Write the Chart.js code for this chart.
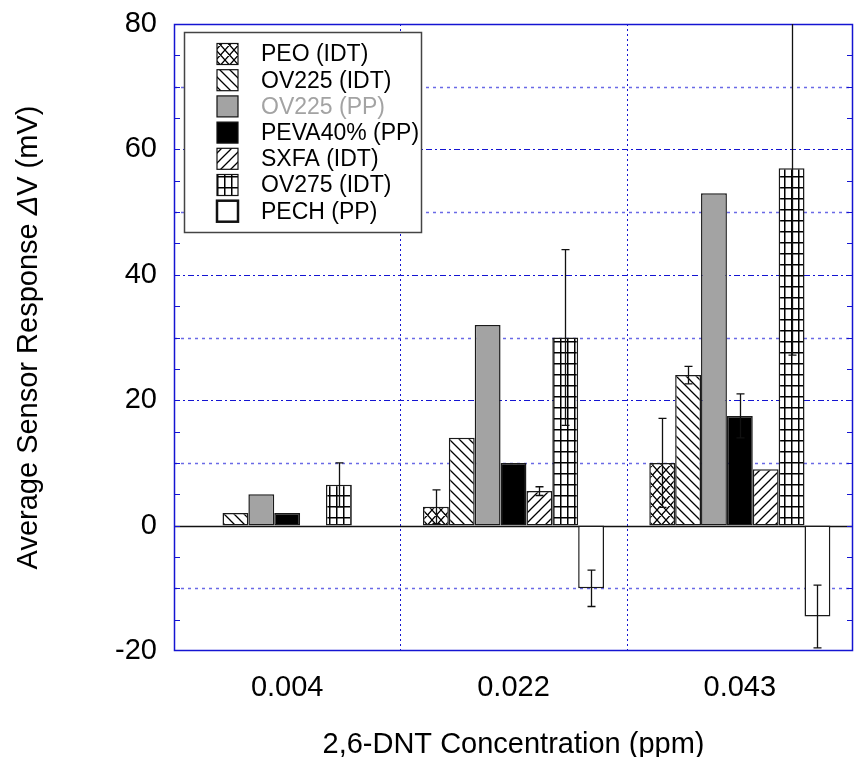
<!DOCTYPE html>
<html>
<head>
<meta charset="utf-8">
<script src="https://cdn.jsdelivr.net/npm/chart.js@4.4.1/dist/chart.umd.min.js"></script>
<style>
  html, body { margin: 0; padding: 0; background: #fff; }
  #wrap { width: 854px; height: 757px; }
</style>
</head>
<body>
<div id="wrap"><canvas id="chart" width="854" height="757"></canvas></div>
<script>
// x categories (2,6-DNT concentration, ppm)
const concentrations = ['0.004', '0.022', '0.043'];
const sensorNames = ['PEO (IDT)', 'OV225 (IDT)', 'OV225 (PP)', 'PEVA40% (PP)', 'SXFA (IDT)', 'OV275 (IDT)', 'PECH (PP)'];

// average response (mV) per sensor
const peoIdt = [0, 3, 10];
const ov225Idt = [2, 14, 24];
const ov225Pp = [5, 32, 53];
const peva40Pp = [2, 10, 17.5];
const sxfaIdt = [0, 5.5, 9];
const ov275Idt = [6.5, 30, 57];
const pechPp = [0, -10, -14.5];

// error bar half lengths (mV)
const peoIdtErr = [0, 2.7, 7.1];
const ov225IdtErr = [0, 0, 1.4];
const ov225PpErr = [0, 0, 0];
const peva40PpErr = [0, 0, 3.5];
const sxfaIdtErr = [0, 0.7, 0];
const ov275IdtErr = [3.5, 14, 29.8];
const pechPpErr = [0, 2.9, 5];

const yTickLabels = [-20, 0, 20, 40, 60, 80];

const FONT = "'Liberation Sans', Arial, sans-serif";
const BLUE = '#1414d2';
const LIGHT_BLUE = '#6a6ae6';
const GREY = '#a3a3a3';

function makePattern(kind) {
    const tile = document.createElement('canvas');
    const w = kind === 'grid' ? 7 : (kind === 'cross' ? 9 : 10);
    const h = kind === 'grid' ? 11 : 10;
    tile.width = w;
    tile.height = h;
    const c = tile.getContext('2d');
    c.fillStyle = '#fff';
    c.fillRect(0, 0, w, h);
    c.fillStyle = '#000';
    c.strokeStyle = '#000';
    c.lineWidth = 1.3;
    if (kind === 'grid') {
        c.fillRect(0, 0, 1.5, h);
        c.fillRect(0, 0, w, 1.5);
    } else {
        c.beginPath();
        for (let k = -1; k <= 1; k++) {
            if (kind === 'back' || kind === 'cross') {
                c.moveTo(k * w - w, -h);
                c.lineTo(k * w + 2 * w, 2 * h);
            }
            if (kind === 'fwd' || kind === 'cross') {
                c.moveTo(k * w + 2 * w, -h);
                c.lineTo(k * w - w, 2 * h);
            }
        }
        c.stroke();
    }
    return c.createPattern(tile, 'repeat');
}

const seriesValues = [peoIdt, ov225Idt, ov225Pp, peva40Pp, sxfaIdt, ov275Idt, pechPp];
const seriesErrors = [peoIdtErr, ov225IdtErr, ov225PpErr, peva40PpErr, sxfaIdtErr, ov275IdtErr, pechPpErr];
const fills = [makePattern('cross'), makePattern('back'), GREY, '#000', makePattern('fwd'), makePattern('grid'), '#fff'];

const datasets = seriesValues.map((vals, i) => ({
    label: sensorNames[i],
    data: vals,
    backgroundColor: fills[i],
    borderColor: '#1a1a1a',
    borderWidth: 1.5,
    borderSkipped: false,
    categoryPercentage: 0.8,
    barPercentage: 1.0
}));

// grid, frame, zero line and minor ticks
const framePlugin = {
    id: 'frame',
    beforeDatasetsDraw(chart) {
        const { ctx, chartArea: a, scales: { x, y } } = chart;
        ctx.save();
        y.ticks.forEach(t => {
            if (t.value === y.min || t.value === y.max || t.value === 0) return;
            const py = Math.round(y.getPixelForValue(t.value)) + 0.5;
            const major = t.value % 20 === 0;
            ctx.strokeStyle = major ? BLUE : LIGHT_BLUE;
            ctx.lineWidth = major ? 1 : 1.5;
            ctx.setLineDash(major ? [6, 3, 2, 3] : [3, 4]);
            ctx.beginPath();
            ctx.moveTo(a.left, py);
            ctx.lineTo(a.right, py);
            ctx.stroke();
        });
        // category boundaries
        ctx.strokeStyle = BLUE;
        ctx.lineWidth = 1;
        ctx.setLineDash([2, 3]);
        for (let i = 1; i < concentrations.length; i++) {
            const px = Math.round((x.getPixelForValue(i - 1) + x.getPixelForValue(i)) / 2) + 0.5;
            ctx.beginPath();
            ctx.moveTo(px, a.top);
            ctx.lineTo(px, a.bottom);
            ctx.stroke();
        }
        ctx.setLineDash([]);
        // zero line
        const zy = Math.round(y.getPixelForValue(0)) + 0.5;
        ctx.strokeStyle = '#111';
        ctx.lineWidth = 1.5;
        ctx.beginPath();
        ctx.moveTo(a.left, zy);
        ctx.lineTo(a.right, zy);
        ctx.stroke();
        ctx.restore();
    },
    afterDatasetsDraw(chart) {
        const { ctx, chartArea: a, scales: { y } } = chart;
        ctx.save();
        ctx.strokeStyle = BLUE;
        ctx.lineWidth = 1.5;
        ctx.strokeRect(a.left + 0.5, a.top + 0.5, a.right - a.left - 1, a.bottom - a.top - 1);
        // minor ticks every half step, inward on both sides
        ctx.lineWidth = 1;
        const step = y.ticks[1].value - y.ticks[0].value;
        y.ticks.forEach(t => {
            [t.value, t.value + step / 2].forEach(v => {
                if (v <= y.min || v >= y.max) return;
                const py = Math.round(y.getPixelForValue(v)) + 0.5;
                ctx.beginPath();
                ctx.moveTo(a.left, py);
                ctx.lineTo(a.left + 6, py);
                ctx.moveTo(a.right, py);
                ctx.lineTo(a.right - 6, py);
                ctx.stroke();
            });
        });
        ctx.restore();
    }
};

// error bars
const errorBarPlugin = {
    id: 'errorBars',
    afterDatasetsDraw(chart) {
        const { ctx, chartArea: a, scales: { y } } = chart;
        ctx.save();
        ctx.beginPath();
        ctx.rect(a.left, a.top, a.right - a.left, a.bottom - a.top);
        ctx.clip();
        ctx.strokeStyle = '#111';
        ctx.lineWidth = 1.3;
        chart.data.datasets.forEach((ds, i) => {
            const meta = chart.getDatasetMeta(i);
            meta.data.forEach((bar, j) => {
                const e = seriesErrors[i][j];
                if (!e) return;
                const v = ds.data[j];
                const x = Math.round(bar.x) + 0.5;
                const y1 = y.getPixelForValue(v + e);
                const y2 = y.getPixelForValue(v - e);
                ctx.beginPath();
                ctx.moveTo(x, y1);
                ctx.lineTo(x, y2);
                ctx.moveTo(x - 4, y1);
                ctx.lineTo(x + 4, y1);
                ctx.moveTo(x - 4, y2);
                ctx.lineTo(x + 4, y2);
                ctx.stroke();
            });
        });
        ctx.restore();
    }
};

// legend box inside the plot, top left
const legendPlugin = {
    id: 'insideLegend',
    afterDraw(chart) {
        const ctx = chart.ctx;
        const box = { left: 184, top: 32, width: 237, height: 200 };
        ctx.save();
        ctx.fillStyle = '#fff';
        ctx.fillRect(box.left, box.top, box.width, box.height);
        ctx.strokeStyle = '#444';
        ctx.lineWidth = 1.5;
        ctx.strokeRect(box.left + 0.5, box.top + 0.5, box.width, box.height);
        ctx.font = '23px ' + FONT;
        ctx.textBaseline = 'middle';
        chart.data.datasets.forEach((ds, i) => {
            const cy = 54 + i * 26.2;
            const sx = 217, sw = 21, sh = 21;
            ctx.fillStyle = ds.backgroundColor;
            ctx.fillRect(sx, cy - sh / 2, sw, sh);
            ctx.strokeStyle = '#111';
            ctx.lineWidth = i === chart.data.datasets.length - 1 ? 2.5 : 1.2;
            ctx.strokeRect(sx, cy - sh / 2, sw, sh);
            ctx.fillStyle = ds.backgroundColor === GREY ? GREY : '#000';
            ctx.fillText(ds.label, 261, cy + 1);
        });
        ctx.restore();
    }
};

// y axis title with italic delta
const yTitlePlugin = {
    id: 'yTitle',
    afterDraw(chart) {
        const { ctx, chartArea: a } = chart;
        const parts = [
            ['Average Sensor Response ', '29px ' + FONT],
            ['\u0394', 'italic 29px ' + FONT],
            ['V (mV)', '29px ' + FONT]
        ];
        ctx.save();
        let total = 0;
        parts.forEach(p => { ctx.font = p[1]; total += ctx.measureText(p[0]).width; });
        ctx.translate(29, (a.top + a.bottom) / 2);
        ctx.rotate(-Math.PI / 2);
        ctx.textBaseline = 'middle';
        ctx.fillStyle = '#000';
        let pos = -total / 2;
        parts.forEach(p => {
            ctx.font = p[1];
            ctx.fillText(p[0], pos, 0);
            pos += ctx.measureText(p[0]).width;
        });
        ctx.restore();
    }
};

new Chart(document.getElementById('chart').getContext('2d'), {
    type: 'bar',
    data: {
        labels: concentrations,
        datasets: datasets
    },
    options: {
        responsive: false,
        animation: false,
        layout: { padding: { top: 24, right: 1, left: 0, bottom: 0 } },
        plugins: {
            legend: { display: false },
            tooltip: { enabled: false }
        },
        scales: {
            x: {
                grid: { display: false, drawTicks: false },
                border: { display: false },
                ticks: {
                    color: '#000',
                    padding: 20,
                    font: { family: FONT, size: 29 }
                },
                title: {
                    display: true,
                    text: '2,6-DNT Concentration (ppm)',
                    color: '#000',
                    padding: { top: 0, bottom: 0 },
                    font: { family: FONT, size: 29, lineHeight: 0.8 }
                },
                afterFit(scale) {
                    scale.height = 106;
                    scale.paddingLeft = 0;
                    scale.paddingRight = 0;
                }
            },
            y: {
                min: -20,
                max: 80,
                grid: { display: false, drawTicks: false },
                border: { display: false },
                ticks: {
                    stepSize: 10,
                    color: '#000',
                    padding: 17,
                    font: { family: FONT, size: 29 },
                    callback: v => yTickLabels.includes(v) ? String(v) : ''
                },
                afterFit(scale) {
                    scale.width = 174;
                    scale.paddingTop = 0;
                    scale.paddingBottom = 0;
                }
            }
        }
    },
    plugins: [framePlugin, errorBarPlugin, legendPlugin, yTitlePlugin]
});
</script>
</body>
</html>
